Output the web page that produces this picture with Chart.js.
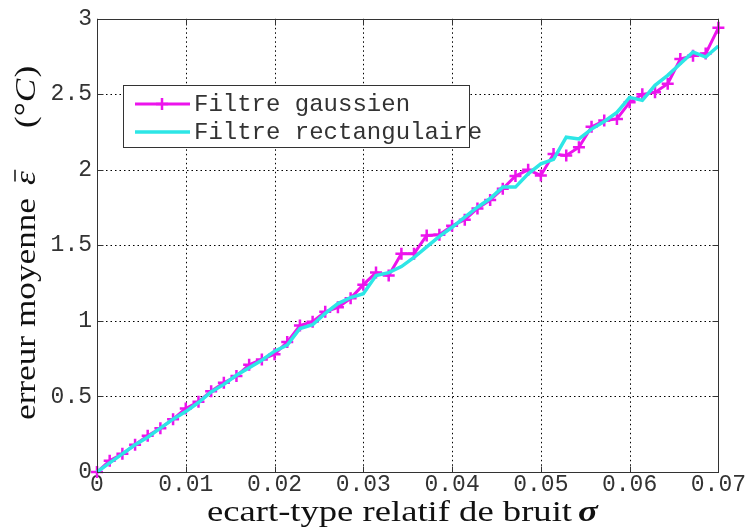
<!DOCTYPE html>
<html>
<head>
<meta charset="utf-8">
<script src="https://cdn.jsdelivr.net/npm/chart.js@4.4.1/dist/chart.umd.min.js"></script>
<style>
  html, body { margin: 0; padding: 0; background: #fff; }
  #wrap { width: 750px; height: 531px; }
</style>
</head>
<body>
<div id="wrap"><canvas id="c" width="750" height="531"></canvas></div>
<script>
// noise level (relative std), 50 samples from 0 to 0.07
const sigma = [
  0, 0.00143, 0.00286, 0.00429, 0.00571, 0.00714, 0.00857, 0.01, 0.01143, 0.01286,
  0.01429, 0.01571, 0.01714, 0.01857, 0.02, 0.02143, 0.02286, 0.02429, 0.02571, 0.02714,
  0.02857, 0.03, 0.03143, 0.03286, 0.03429, 0.03571, 0.03714, 0.03857, 0.04, 0.04143,
  0.04286, 0.04429, 0.04571, 0.04714, 0.04857, 0.05, 0.05143, 0.05286, 0.05429, 0.05571,
  0.05714, 0.05857, 0.06, 0.06143, 0.06286, 0.06429, 0.06571, 0.06714, 0.06857, 0.07
]
// mean error, gaussian filter
const gaussien = [
  0, 0.075, 0.12, 0.18, 0.24, 0.29, 0.35, 0.42, 0.465, 0.535,
  0.59, 0.635, 0.71, 0.745, 0.78, 0.86, 0.97, 0.995, 1.06, 1.09,
  1.15, 1.24, 1.32, 1.30, 1.445, 1.445, 1.566, 1.57, 1.63, 1.67,
  1.745, 1.80, 1.875, 1.96, 2.00, 1.963, 2.105, 2.095, 2.15, 2.285,
  2.326, 2.337, 2.447, 2.50, 2.513, 2.57, 2.734, 2.756, 2.77, 2.94
]
// mean error, rectangular filter
const rectangulaire = [
  0, 0.06, 0.12, 0.18, 0.23, 0.29, 0.35, 0.40, 0.46, 0.53,
  0.58, 0.64, 0.69, 0.74, 0.80, 0.84, 0.95, 0.975, 1.05, 1.115,
  1.155, 1.18, 1.30, 1.32, 1.36, 1.42, 1.49, 1.56, 1.62, 1.687,
  1.753, 1.81, 1.886, 1.886, 1.974, 2.04, 2.07, 2.216, 2.205, 2.27,
  2.32, 2.38, 2.48, 2.46, 2.56, 2.626, 2.703, 2.78, 2.747, 2.82
]
const seriesNames = ['Filtre gaussien', 'Filtre rectangulaire']
const xTicks = [0, 0.01, 0.02, 0.03, 0.04, 0.05, 0.06, 0.07]
const yTicks = [0, 0.5, 1, 1.5, 2, 2.5, 3]
const xTitle = 'ecart-type relatif de bruit'
const yTitle = 'erreur moyenne'

const MAGENTA = '#ec14ec'
const CYAN = '#2de6e6'
const MONO = '"Courier New", "Liberation Mono", monospace'
const SERIF = '"Times New Roman", "Liberation Serif", serif'

// grid, box, inward ticks, legend and titles (matlab look)
const matlabFrame = {
  id: 'matlabFrame',
  beforeDatasetsDraw(chart) {
    const {ctx, chartArea: a, scales: {x, y}} = chart
    ctx.save()
    ctx.strokeStyle = '#000'
    ctx.lineWidth = 1
    ctx.setLineDash([1.5, 3])
    xTicks.forEach(v => {
      const px = Math.round(x.getPixelForValue(v)) + 0.5
      ctx.beginPath(); ctx.moveTo(px, a.top); ctx.lineTo(px, a.bottom); ctx.stroke()
    })
    yTicks.forEach(v => {
      const py = Math.round(y.getPixelForValue(v)) + 0.5
      ctx.beginPath(); ctx.moveTo(a.left, py); ctx.lineTo(a.right, py); ctx.stroke()
    })
    ctx.restore()
  },
  afterDatasetsDraw(chart) {
    const {ctx, chartArea: a, scales: {x, y}} = chart
    ctx.save()
    ctx.strokeStyle = '#333'
    ctx.lineWidth = 1
    ctx.setLineDash([])
    const L = Math.round(a.left) + 0.5, R = Math.round(a.right) + 0.5
    const T = Math.round(a.top) + 0.5, B = Math.round(a.bottom) + 0.5
    ctx.strokeRect(L, T, R - L, B - T)
    const tl = 6
    ctx.beginPath()
    xTicks.forEach(v => {
      const px = Math.round(x.getPixelForValue(v)) + 0.5
      ctx.moveTo(px, B); ctx.lineTo(px, B - tl)
      ctx.moveTo(px, T); ctx.lineTo(px, T + tl)
    })
    yTicks.forEach(v => {
      const py = Math.round(y.getPixelForValue(v)) + 0.5
      ctx.moveTo(L, py); ctx.lineTo(L + tl, py)
      ctx.moveTo(R, py); ctx.lineTo(R - tl, py)
    })
    ctx.stroke()

    // legend
    const box = {x: 123.5, y: 85.5, w: 346, h: 62}
    ctx.fillStyle = '#fff'
    ctx.fillRect(box.x, box.y, box.w, box.h)
    ctx.strokeStyle = '#333'
    ctx.strokeRect(box.x, box.y, box.w, box.h)
    const rows = [104, 132]
    chart.data.datasets.forEach((ds, i) => {
      const ry = rows[i]
      ctx.strokeStyle = ds.borderColor
      ctx.lineWidth = ds.borderWidth
      ctx.beginPath(); ctx.moveTo(135, ry); ctx.lineTo(190, ry); ctx.stroke()
      if (ds.pointRadius > 0) {
        ctx.lineWidth = ds.pointBorderWidth
        ctx.beginPath()
        ctx.moveTo(162 - ds.pointRadius, ry); ctx.lineTo(162 + ds.pointRadius, ry)
        ctx.moveTo(162, ry - ds.pointRadius); ctx.lineTo(162, ry + ds.pointRadius)
        ctx.stroke()
      }
      ctx.fillStyle = '#333'
      ctx.font = '24px ' + MONO
      ctx.textBaseline = 'middle'
      ctx.textAlign = 'left'
      ctx.fillText(ds.label, 194, ry + 1)
    })
    ctx.restore()
  },
  afterDraw(chart) {
    const {ctx} = chart
    const f = '30px ' + SERIF, fi = 'italic 30px ' + SERIF
    ctx.save()
    ctx.fillStyle = '#111'
    ctx.textBaseline = 'alphabetic'
    ctx.textAlign = 'left'

    // x title
    ctx.save()
    ctx.translate(207, 521)
    ctx.font = f
    let sx = (572 - 207) / ctx.measureText(xTitle).width
    ctx.scale(sx, 1)
    ctx.fillText(xTitle, 0, 0)
    ctx.font = 'bold italic 30px ' + SERIF
    ctx.fillText('σ', (578 - 207) / sx, 0)
    ctx.restore()

    // y title (rotated)
    ctx.save()
    ctx.translate(35, 420)
    ctx.rotate(-Math.PI / 2)
    ctx.font = f
    sx = (420 - 198) / ctx.measureText(yTitle).width
    ctx.scale(sx, 1)
    ctx.fillText(yTitle, 0, 0)
    ctx.font = fi
    const ex = (420 - 185) / sx
    ctx.fillText('ε', ex, 0)
    const ew = ctx.measureText('ε').width
    ctx.strokeStyle = '#111'
    ctx.lineWidth = 1.5
    ctx.beginPath(); ctx.moveTo(ex + ew * 0.25, -20); ctx.lineTo(ex + ew * 1.1, -20); ctx.stroke()
    let ux = (420 - 128) / sx
    ctx.font = f
    ctx.fillText('(', ux, 0); ux += ctx.measureText('(').width
    ctx.fillText('°', ux, 0); ux += ctx.measureText('°').width
    ctx.font = fi
    ctx.fillText('C', ux, 0); ux += ctx.measureText('C').width + 1
    ctx.font = f
    ctx.fillText(')', ux, 0)
    ctx.restore()

    ctx.restore()
  }
}

const chart = new Chart(document.getElementById('c'), {
  type: 'line',
  data: {
    datasets: [
      {
        label: seriesNames[0],
        data: sigma.map((s, i) => ({x: s, y: gaussien[i]})),
        borderColor: MAGENTA,
        borderWidth: 3,
        pointStyle: 'cross',
        pointRadius: 6,
        pointBorderWidth: 2.5,
        pointBorderColor: MAGENTA,
        pointBackgroundColor: MAGENTA,
        tension: 0,
        clip: false,
        order: 1
      },
      {
        label: seriesNames[1],
        data: sigma.map((s, i) => ({x: s, y: rectangulaire[i]})),
        borderColor: CYAN,
        borderWidth: 3.5,
        pointRadius: 0,
        tension: 0,
        clip: false,
        order: 0
      }
    ]
  },
  options: {
    responsive: false,
    animation: false,
    devicePixelRatio: 1,
    layout: {padding: {top: 18, right: 27, left: 0, bottom: 0}},
    plugins: {legend: {display: false}, tooltip: {enabled: false}},
    scales: {
      x: {
        type: 'linear',
        min: 0,
        max: 0.07,
        afterBuildTicks: scale => { scale.ticks = xTicks.map(v => ({value: v})) },
        afterFit: scale => { scale.height = 59 },
        grid: {display: false, drawTicks: false},
        border: {display: false},
        ticks: {
          autoSkip: false,
          maxRotation: 0,
          padding: 4,
          color: '#333',
          font: {family: MONO, size: 23, lineHeight: 0.8},
          callback: v => v === 0 ? '0' : v.toFixed(2)
        }
      },
      y: {
        min: 0,
        max: 3,
        afterBuildTicks: scale => { scale.ticks = yTicks.map(v => ({value: v})) },
        afterFit: scale => { scale.width = 97 },
        grid: {display: false, drawTicks: false},
        border: {display: false},
        ticks: {
          padding: 5,
          color: '#333',
          font: {family: MONO, size: 23},
          callback: v => String(v)
        }
      }
    }
  },
  plugins: [matlabFrame]
})
</script>
</body>
</html>
